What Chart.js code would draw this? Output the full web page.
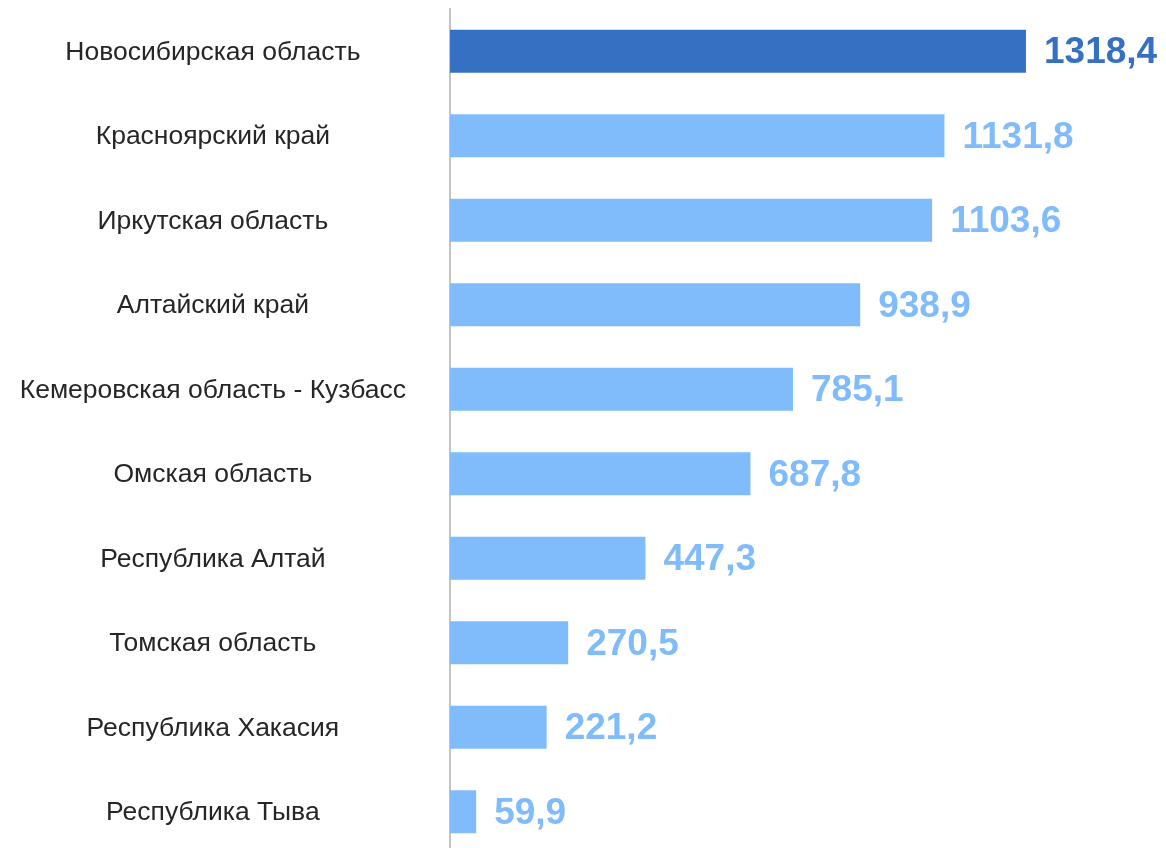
<!DOCTYPE html>
<html lang="ru">
<head>
    <meta charset="UTF-8">
    <title>Регионы</title>
    <script src="https://cdn.jsdelivr.net/npm/chart.js"></script>
    <style>
        html, body { margin: 0; padding: 0; background: #fff; overflow: hidden; }
        #wrap { position: relative; width: 1166px; height: 854px; }
    </style>
</head>
<body>
    <div id="wrap"><canvas id="myChart"></canvas></div>

    <script>
        // данные
        const regions = [
            'Новосибирская область',
            'Красноярский край',
            'Иркутская область',
            'Алтайский край',
            'Кемеровская область - Кузбасс',
            'Омская область',
            'Республика Алтай',
            'Томская область',
            'Республика Хакасия',
            'Республика Тыва'
        ];
        const values = [1318.4, 1131.8, 1103.6, 938.9, 785.1, 687.8, 447.3, 270.5, 221.2, 59.9];

        const darkBlue = '#3570c3';
        const lightBlue = '#80bcfb';
        const barColors = values.map((v, i) => i === 0 ? darkBlue : lightBlue);

        // подписи значений справа от столбцов
        const valueLabels = {
            id: 'valueLabels',
            afterDatasetsDraw(chart) {
                const ctx = chart.ctx;
                const meta = chart.getDatasetMeta(0);
                ctx.save();
                ctx.font = 'bold 37px "Liberation Sans", Arial, sans-serif';
                ctx.textAlign = 'left';
                ctx.textBaseline = 'middle';
                meta.data.forEach((bar, i) => {
                    ctx.fillStyle = barColors[i];
                    const txt = values[i].toFixed(1).replace('.', ',');
                    ctx.fillText(txt, bar.x + 18, bar.y + 2);
                });
                ctx.restore();
            }
        };

        const ctx = document.getElementById('myChart').getContext('2d');
        new Chart(ctx, {
            type: 'bar',
            data: {
                labels: regions,
                datasets: [{
                    data: values,
                    backgroundColor: barColors,
                    barPercentage: 0.51,
                    categoryPercentage: 1.0
                }]
            },
            options: {
                indexAxis: 'y',
                responsive: true,
                maintainAspectRatio: false,
                animation: false,
                layout: { padding: { top: 9, right: 17, bottom: 0, left: 0 } },
                plugins: {
                    legend: { display: false },
                    tooltip: { enabled: false }
                },
                scales: {
                    x: {
                        display: false,
                        min: 0,
                        max: 1600
                    },
                    y: {
                        afterFit(axis) {
                            axis.width = 450;
                            axis.paddingTop = 0;
                            axis.paddingBottom = 0;
                        },
                        grid: { display: false, drawTicks: false },
                        border: { display: true, color: '#c4c4c4', width: 2 },
                        ticks: {
                            crossAlign: 'center',
                            padding: 44,
                            labelOffset: 1,
                            color: '#262626',
                            font: { family: '"Liberation Sans", Arial, sans-serif', size: 26.5 }
                        }
                    }
                }
            },
            plugins: [valueLabels]
        });
    </script>
</body>
</html>
